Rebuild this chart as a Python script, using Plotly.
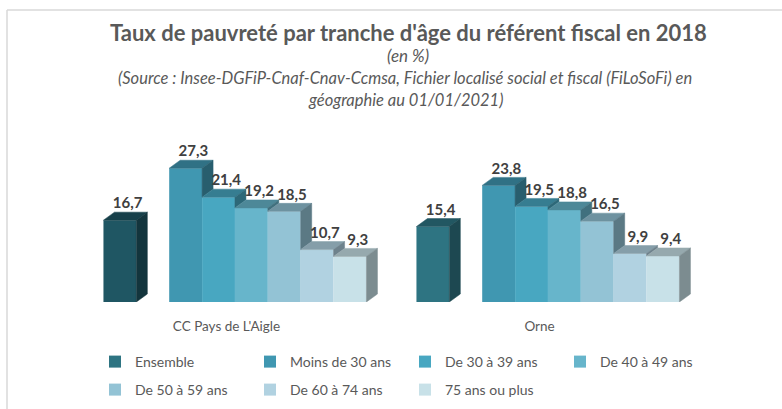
import plotly.graph_objects as go

# ---------------- data ----------------
categories = ["CC Pays de L'Aigle", "Orne"]
series_names = ["Ensemble", "Moins de 30 ans", "De 30 à 39 ans", "De 40 à 49 ans",
                "De 50 à 59 ans", "De 60 à 74 ans", "75 ans ou plus"]
ensemble = [16.7, 15.4]
moins_30 = [27.3, 23.8]
de_30_39 = [21.4, 19.5]
de_40_49 = [19.2, 18.8]
de_50_59 = [18.5, 16.5]
de_60_74 = [10.7, 9.9]
plus_75 = [9.3, 9.4]
values = [ensemble, moins_30, de_30_39, de_40_49, de_50_59, de_60_74, plus_75]

# front colours per series (per category)
front_colors = [
    ["#1F5663", "#2E7482"],
    ["#4097B1", "#4097B1"],
    ["#48A7C1", "#48A7C1"],
    ["#67B5CB", "#67B5CB"],
    ["#93C3D5", "#93C3D5"],
    ["#B1D2E1", "#B1D2E1"],
    ["#C8E1E8", "#C8E1E8"],
]

# ---------------- geometry (style) ----------------
PX_CAT = 313.0          # pixels per category unit
PX_VAL = 4.9            # pixels per percentage point
W = 263.0 / 8 / PX_CAT  # width of one bar slot
SHIFT = 0.027           # group shift relative to category centre (3D floor)
DX = 11.0 / PX_CAT      # 3D depth, horizontal
DY = 8.0 / PX_VAL       # 3D depth, vertical


def slot(i):
    return 0 if i == 0 else i + 1


def shade(hexcol, f):
    h = hexcol.lstrip("#")
    r, g, b = (int(h[k:k + 2], 16) for k in (0, 2, 4))
    return "rgb(%d,%d,%d)" % (round(r * f), round(g * f), round(b * f))


def fmt(v):
    return ("%.1f" % v).replace(".", ",")


fig = go.Figure()
order = [1, 0]  # Orne first so legend swatch takes its colour

# front faces: bars
for i, name in enumerate(series_names):
    xs = [c + SHIFT + (slot(i) - 4) * W + W / 2 for c in order]
    ys = [values[i][c] for c in order]
    cols = [front_colors[i][c] for c in order]
    fig.add_trace(go.Bar(
        x=xs, y=ys, width=W, name=name,
        marker=dict(color=cols, line=dict(width=0)),
        legend="legend" if i < 4 else "legend2",
        hovertext=[categories[c] for c in order],
        hovertemplate="%{hovertext}<br>" + name + " : %{y}<extra></extra>",
    ))

# top and side faces
for c in range(len(categories)):
    for i in range(len(series_names)):
        v = values[i][c]
        xl = c + SHIFT + (slot(i) - 4) * W
        xr = xl + W
        if i + 1 < len(series_names) and slot(i + 1) == slot(i) + 1:
            vnext = values[i + 1][c]
        else:
            vnext = 0.0
        fc = front_colors[i][c]
        fig.add_trace(go.Scatter(
            x=[xl, xl + DX, xr + DX, xr, xl],
            y=[v, v + DY, v + DY, v, v],
            fill="toself", fillcolor=shade(fc, 0.75), mode="lines",
            line=dict(width=0.5, color=shade(fc, 0.75)),
            showlegend=False, hoverinfo="skip"))
        if v > vnext:
            fig.add_trace(go.Scatter(
                x=[xr, xr + DX, xr + DX, xr, xr],
                y=[vnext, vnext + DY, v + DY, v, vnext],
                fill="toself", fillcolor=shade(fc, 0.62), mode="lines",
                line=dict(width=0.5, color=shade(fc, 0.62)),
                showlegend=False, hoverinfo="skip"))

# data labels
for i in range(len(series_names)):
    xs = [c + SHIFT + (slot(i) - 4) * W + W / 2 + 0.7 * DX for c in range(len(categories))]
    ys = [values[i][c] + DY for c in range(len(categories))]
    fig.add_trace(go.Scatter(
        x=xs, y=ys, mode="text", text=[fmt(v) for v in values[i]],
        textposition="top center",
        textfont=dict(family="Lato", size=15, color="#404040", weight="bold"),
        showlegend=False, hoverinfo="skip", cliponaxis=False))

L, R, T, B = 70, 86, 155, 107
PW, PH = 782 - L - R, 409 - T - B


def px_x(p):
    return (p - L) / PW


def px_y(p):
    return (409 - B - p) / PH


leg_common = dict(orientation="h", xanchor="left", yanchor="middle",
                  entrywidth=110, entrywidthmode="pixels",
                  font=dict(family="Lato", size=14, color="#595959"),
                  bgcolor="rgba(0,0,0,0)", itemclick=False, itemdoubleclick=False)

fig.update_layout(
    width=782, height=409,
    margin=dict(l=L, r=R, t=T, b=B, pad=0, autoexpand=False),
    paper_bgcolor="white", plot_bgcolor="white",
    font=dict(family="Lato", color="#595959", size=14),
    barmode="overlay",
    showlegend=True,
    xaxis=dict(range=[-0.5, 1.5], showgrid=False, zeroline=False, showline=False,
               tickvals=list(range(len(categories))), ticktext=categories,
               ticks="", ticklabelstandoff=14,
               tickfont=dict(family="Lato", size=13.5, color="#595959")),
    yaxis=dict(range=[0, 30], visible=False, fixedrange=True),
    legend=dict(x=px_x(95), y=px_y(362), **leg_common),
    legend2=dict(x=px_x(95), y=px_y(390), **leg_common),
    shapes=[
        dict(type="line", xref="paper", yref="paper", x0=px_x(7), x1=px_x(782),
             y0=px_y(10), y1=px_y(10), line=dict(color="#D9D9D9", width=1.5)),
        dict(type="line", xref="paper", yref="paper", x0=px_x(7), x1=px_x(7),
             y0=px_y(10), y1=px_y(409), line=dict(color="#D9D9D9", width=1.5)),
    ],
    annotations=[
        dict(text="<b>Taux de pauvreté par tranche d'âge du référent fiscal en 2018</b>",
             xref="paper", yref="paper", x=px_x(408), y=px_y(32), showarrow=False,
             xanchor="center", yanchor="middle",
             font=dict(family="Lato", size=22, color="#595959")),
        dict(text="<i>(en %)</i>",
             xref="paper", yref="paper", x=px_x(408), y=px_y(56), showarrow=False,
             xanchor="center", yanchor="middle",
             font=dict(family="Lato", size=17, color="#595959")),
        dict(text="<i>(Source : Insee-DGFiP-Cnaf-Cnav-Ccmsa, Fichier localisé social et fiscal (FiLoSoFi) en</i>",
             xref="paper", yref="paper", x=px_x(405), y=px_y(78), showarrow=False,
             xanchor="center", yanchor="middle",
             font=dict(family="Lato", size=16.5, color="#595959")),
        dict(text="<i>géographie au 01/01/2021)</i>",
             xref="paper", yref="paper", x=px_x(405), y=px_y(100), showarrow=False,
             xanchor="center", yanchor="middle",
             font=dict(family="Lato", size=16.5, color="#595959")),
    ],
)

fig.write_html("out.html", config={"displayModeBar": False},
               post_script="document.body.style.margin='0';")
